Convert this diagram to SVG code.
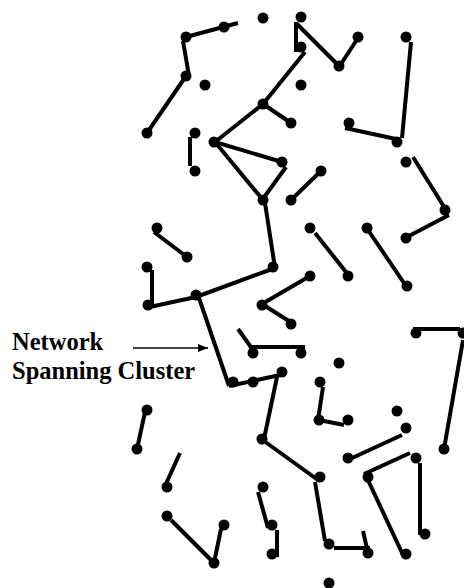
<svg xmlns="http://www.w3.org/2000/svg" width="464" height="588" viewBox="0 0 464 588">
<style>
.e line{stroke:#000;stroke-width:4;stroke-linecap:butt}
.n circle{fill:#000}
.t{font-family:"Liberation Serif","Times New Roman",serif;font-weight:bold;font-size:24.5px;fill:#000}
</style>
<defs>
<marker id="ah" markerWidth="10" markerHeight="8" refX="10" refY="4" orient="auto" markerUnits="userSpaceOnUse">
<path d="M0,0 L10,4 L0,8 Z" fill="#000"/>
</marker>
</defs>
<rect width="464" height="588" fill="#fff"/>
<g id="connectors" class="e">
<line x1="186" y1="37" x2="238" y2="23"/>
<line x1="183" y1="41" x2="189" y2="76"/>
<line x1="186" y1="76" x2="147" y2="133"/>
<line x1="190" y1="137" x2="190" y2="166"/>
<line x1="215" y1="142" x2="263" y2="104"/>
<line x1="263" y1="104" x2="305" y2="52"/>
<line x1="263" y1="104" x2="291" y2="123"/>
<line x1="215" y1="142" x2="282" y2="162"/>
<line x1="215" y1="142" x2="263" y2="200"/>
<line x1="286" y1="167" x2="265" y2="196"/>
<line x1="291" y1="200" x2="321" y2="171"/>
<line x1="265" y1="203" x2="275" y2="268"/>
<line x1="154" y1="232" x2="187" y2="257"/>
<line x1="152" y1="270" x2="152" y2="305"/>
<line x1="145" y1="308" x2="196" y2="297"/>
<line x1="196" y1="297" x2="275" y2="268"/>
<line x1="199" y1="298" x2="229" y2="386"/>
<line x1="229" y1="386" x2="280" y2="375"/>
<line x1="277" y1="377" x2="264" y2="439"/>
<line x1="264" y1="441" x2="318" y2="480"/>
<line x1="315" y1="482" x2="325" y2="541"/>
<line x1="334" y1="548" x2="370" y2="548"/>
<line x1="363" y1="531" x2="368" y2="553"/>
<line x1="297" y1="24" x2="337" y2="64"/>
<line x1="296" y1="22" x2="296" y2="51"/>
<line x1="294" y1="50" x2="302" y2="50"/>
<line x1="341" y1="64" x2="356" y2="41"/>
<line x1="411" y1="42" x2="402" y2="138"/>
<line x1="345" y1="128" x2="396" y2="139"/>
<line x1="413" y1="157" x2="446" y2="210"/>
<line x1="449" y1="215" x2="407" y2="237"/>
<line x1="315" y1="233" x2="346" y2="272"/>
<line x1="368" y1="230" x2="406" y2="286"/>
<line x1="262" y1="304" x2="310" y2="276"/>
<line x1="262" y1="304" x2="292" y2="323"/>
<line x1="238" y1="329" x2="253" y2="350"/>
<line x1="252" y1="347" x2="305" y2="347"/>
<line x1="413" y1="329" x2="460" y2="329"/>
<line x1="463" y1="340" x2="444" y2="449"/>
<line x1="323" y1="387" x2="318" y2="420"/>
<line x1="319" y1="420" x2="344" y2="425"/>
<line x1="402" y1="435" x2="350" y2="459"/>
<line x1="410" y1="453" x2="364" y2="474"/>
<line x1="367" y1="478" x2="403" y2="555"/>
<line x1="420" y1="463" x2="420" y2="535"/>
<line x1="145" y1="412" x2="137" y2="449"/>
<line x1="180" y1="453" x2="165" y2="486"/>
<line x1="171" y1="520" x2="212" y2="561"/>
<line x1="214" y1="563" x2="221" y2="529"/>
<line x1="258" y1="492" x2="268" y2="528"/>
<line x1="277" y1="530" x2="277" y2="557"/>
</g>
<g id="nodes" class="n">
<circle cx="263" cy="18" r="5.5"/>
<circle cx="186" cy="37" r="5.5"/>
<circle cx="224" cy="27" r="5.5"/>
<circle cx="186" cy="76" r="5.5"/>
<circle cx="205" cy="85" r="5.5"/>
<circle cx="147" cy="133" r="5.5"/>
<circle cx="195" cy="133" r="5.5"/>
<circle cx="195" cy="171" r="5.5"/>
<circle cx="214" cy="142" r="5.5"/>
<circle cx="263" cy="104" r="5.5"/>
<circle cx="301" cy="47" r="5.5"/>
<circle cx="291" cy="123" r="5.5"/>
<circle cx="301" cy="17" r="5.5"/>
<circle cx="339" cy="66" r="5.5"/>
<circle cx="358" cy="37" r="5.5"/>
<circle cx="301" cy="85" r="5.5"/>
<circle cx="406" cy="37" r="5.5"/>
<circle cx="397" cy="142" r="5.5"/>
<circle cx="349" cy="123" r="5.5"/>
<circle cx="282" cy="162" r="5.5"/>
<circle cx="263" cy="200" r="5.5"/>
<circle cx="291" cy="200" r="5.5"/>
<circle cx="321" cy="171" r="5.5"/>
<circle cx="273" cy="267" r="5.5"/>
<circle cx="157" cy="228" r="5.5"/>
<circle cx="187" cy="257" r="5.5"/>
<circle cx="147" cy="267" r="5.5"/>
<circle cx="148" cy="305" r="5.5"/>
<circle cx="196" cy="295" r="5.5"/>
<circle cx="233" cy="382" r="5.5"/>
<circle cx="253" cy="382" r="5.5"/>
<circle cx="282" cy="372" r="5.5"/>
<circle cx="262" cy="439" r="5.5"/>
<circle cx="320" cy="477" r="5.5"/>
<circle cx="329" cy="544" r="5.5"/>
<circle cx="368" cy="553" r="5.5"/>
<circle cx="329" cy="583" r="5.5"/>
<circle cx="406" cy="162" r="5.5"/>
<circle cx="445" cy="210" r="5.5"/>
<circle cx="406" cy="238" r="5.5"/>
<circle cx="310" cy="228" r="5.5"/>
<circle cx="348" cy="276" r="5.5"/>
<circle cx="367" cy="228" r="5.5"/>
<circle cx="407" cy="286" r="5.5"/>
<circle cx="310" cy="276" r="5.5"/>
<circle cx="262" cy="305" r="5.5"/>
<circle cx="291" cy="324" r="5.5"/>
<circle cx="253" cy="353" r="5.5"/>
<circle cx="301" cy="353" r="5.5"/>
<circle cx="147" cy="410" r="5.5"/>
<circle cx="137" cy="449" r="5.5"/>
<circle cx="339" cy="363" r="5.5"/>
<circle cx="320" cy="382" r="5.5"/>
<circle cx="319" cy="420" r="5.5"/>
<circle cx="348" cy="420" r="5.5"/>
<circle cx="397" cy="411" r="5.5"/>
<circle cx="406" cy="428" r="5.5"/>
<circle cx="416" cy="333" r="5.5"/>
<circle cx="463" cy="333" r="5.5"/>
<circle cx="444" cy="449" r="5.5"/>
<circle cx="348" cy="458" r="5.5"/>
<circle cx="416" cy="458" r="5.5"/>
<circle cx="368" cy="477" r="5.5"/>
<circle cx="406" cy="554" r="5.5"/>
<circle cx="425" cy="534" r="5.5"/>
<circle cx="167" cy="487" r="5.5"/>
<circle cx="167" cy="516" r="5.5"/>
<circle cx="214" cy="563" r="5.5"/>
<circle cx="224" cy="525" r="5.5"/>
<circle cx="263" cy="487" r="5.5"/>
<circle cx="272" cy="525" r="5.5"/>
<circle cx="272" cy="554" r="5.5"/>
</g>
<g id="label">
<text class="t" x="12" y="350">Network</text>
<text class="t" x="12" y="379">Spanning Cluster</text>
<line x1="133" y1="348" x2="208" y2="348" stroke="#000" stroke-width="1.3" marker-end="url(#ah)"/>
</g>
</svg>
